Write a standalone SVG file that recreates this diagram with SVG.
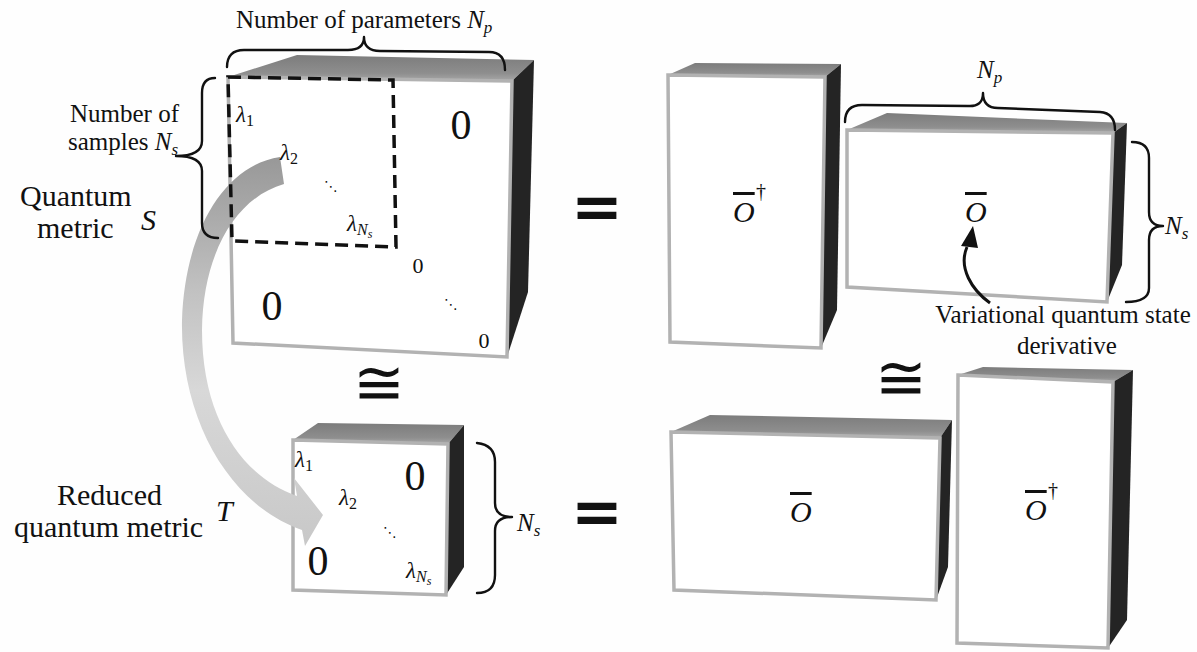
<svg xmlns="http://www.w3.org/2000/svg" width="1197" height="652" viewBox="0 0 1197 652">
<style>
.bg{fill:#fefefe}
.top{fill:url(#topGrad)}
.side{fill:#242424}
.front{fill:#ffffff;stroke:#b2b2b2;stroke-width:3.5;stroke-linejoin:miter}
.lbl{font-family:'Liberation Serif','Times New Roman',serif;font-size:25px;fill:#111}
.big{font-size:30px}
.mi{font-family:'Liberation Serif','Times New Roman',serif;font-style:italic;fill:#111}
.mu{font-family:'Liberation Serif','Times New Roman',serif;font-style:normal;fill:#111}
.zero{font-family:'Liberation Serif','Times New Roman',serif;font-size:42px;fill:#111;text-anchor:middle}
.z0{font-family:'Liberation Serif','Times New Roman',serif;font-size:22px;fill:#111;text-anchor:middle}
.lam{font-family:'Liberation Serif','Times New Roman',serif;font-style:italic;font-size:23px;fill:#111}
.ob{font-family:'Liberation Serif','Times New Roman',serif;font-style:italic;font-size:30px;fill:#111;text-decoration:overline}
.dag{font-family:'Liberation Serif','Times New Roman',serif;font-size:20px;fill:#111}
.brace{fill:none;stroke:#111;stroke-width:2.4;stroke-linecap:round;stroke-linejoin:round}
.dash{fill:none;stroke:#111;stroke-width:3.5;stroke-dasharray:13 7}
.op{font-family:'DejaVu Sans',sans-serif;font-weight:bold;fill:#111;text-anchor:middle}
.cong{font-family:'DejaVu Serif',serif;fill:#111;text-anchor:middle}
.dots{font-family:'DejaVu Sans',sans-serif;fill:#111;text-anchor:middle}
</style>
<defs>
<linearGradient id="topGrad" x1="0" y1="0" x2="0" y2="1">
<stop offset="0" stop-color="#7c7c7c"/>
<stop offset="0.7" stop-color="#8e8e8e"/>
<stop offset="1" stop-color="#a8a8a8"/>
</linearGradient>
<linearGradient id="arrowGrad" gradientUnits="userSpaceOnUse" x1="0" y1="157" x2="0" y2="546">
<stop offset="0" stop-color="#989898"/>
<stop offset="0.35" stop-color="#c2c2c2"/>
<stop offset="0.6" stop-color="#d8d8d8"/>
<stop offset="1" stop-color="#c8c8c8"/>
</linearGradient>
</defs>
<rect class="bg" x="0" y="0" width="1197" height="652"/>

<g id="matrix-S">
<polygon class="top" points="228,77 297,55 534,60 512,81"/>
<polygon class="side" points="512,81 534,60 528,292 507,357"/>
<polygon class="front" points="228,77 512,81 507,357 233,343"/>
</g>

<g id="matrix-T">
<polygon class="top" points="293,440 318,423 464,425 448,444"/>
<polygon class="side" points="448,444 464,425 464,567 446,595"/>
<polygon class="front" points="293,440 448,444 446,595 293,590"/>
</g>

<g id="box-Odag-top">
<polygon class="top" points="668,75 695,63 841,64 825,77"/>
<polygon class="side" points="825,77 841,64 837,310 821,348"/>
<polygon class="front" points="668,75 825,77 821,348 670,342"/>
<text class="ob" x="733" y="222">O</text>
<text class="dag" x="756" y="198">†</text>
</g>

<g id="box-O-top">
<polygon class="top" points="847,130 887,113 1127,123 1113,133"/>
<polygon class="side" points="1113,133 1127,123 1122,265 1107,302"/>
<polygon class="front" points="847,130 1113,133 1107,302 847,287"/>
<text class="ob" x="965" y="222">O</text>
</g>

<g id="box-O-bottom">
<polygon class="top" points="671,432 710,415 952,420 940,438"/>
<polygon class="side" points="940,438 952,420 948,567 936,600"/>
<polygon class="front" points="671,432 940,438 936,600 674,590"/>
<text class="ob" x="790" y="522">O</text>
</g>

<g id="box-Odag-bottom">
<polygon class="top" points="958,375 983,367 1133,370 1113,382"/>
<polygon class="side" points="1113,382 1133,370 1127,620 1108,648"/>
<polygon class="front" points="958,375 1113,382 1108,648 957,643"/>
<text class="ob" x="1025" y="520">O</text>
<text class="dag" x="1048" y="497">†</text>
</g>

<g id="connectors">
<path fill="url(#arrowGrad)" d="M 280,157 C 225,165 185,230 182,320 C 180,420 230,505 302,530 L 305,546 L 323,515 L 294,478 L 297,496 C 244,478 202,420 202,330 C 203,250 238,197 284,184 Z"/>
<path fill="none" stroke="#111" stroke-width="3" d="M 990,303 C 972,290 958,268 967,247"/>
<polygon fill="#111" points="973,226 961,246 978,248"/>
</g>

<g id="S-contents">
<path class="dash" d="M 228,77 L 393,80 L 396,247 L 232,241 Z"/>
<text class="lam" x="236" y="122">λ<tspan class="mu" font-size="16" dy="4">1</tspan></text>
<text class="lam" x="280" y="160">λ<tspan class="mu" font-size="16" dy="4">2</tspan></text>
<text class="dots" x="331" y="191" font-size="14">⋱</text>
<text class="lam" x="347" y="231">λ<tspan font-size="16" dy="4">N</tspan><tspan font-size="12" dy="3">s</tspan></text>
<text class="zero" x="461" y="139">0</text>
<text class="z0" x="418" y="273">0</text>
<text class="dots" x="451" y="309" font-size="14">⋱</text>
<text class="z0" x="484" y="348">0</text>
<text class="zero" x="272" y="320">0</text>
</g>

<g id="T-contents">
<text class="lam" x="295" y="467">λ<tspan class="mu" font-size="16" dy="4">1</tspan></text>
<text class="lam" x="339" y="505">λ<tspan class="mu" font-size="16" dy="4">2</tspan></text>
<text class="dots" x="390" y="537" font-size="14">⋱</text>
<text class="lam" x="406" y="578">λ<tspan font-size="16" dy="4">N</tspan><tspan font-size="12" dy="3">s</tspan></text>
<text class="zero" x="415" y="490">0</text>
<text class="zero" x="318" y="575">0</text>
</g>

<g id="labels">
<text class="lbl" x="236" y="28">Number of parameters <tspan class="mi">N</tspan><tspan class="mi" font-size="17" dy="5">p</tspan></text>
<path class="brace" d="M 227,67 Q 227,50 244,50 L 348,50 Q 364,50 364,37 Q 364,51 380,51 L 489,52 Q 505,52 505,70"/>
<text class="lbl" x="70" y="122">Number of</text>
<text class="lbl" x="68" y="150">samples <tspan class="mi">N</tspan><tspan class="mi" font-size="17" dy="5">s</tspan></text>
<path class="brace" d="M 215,78 Q 202,78 202,93 L 202,141 Q 202,156 176,156 Q 202,156 202,171 L 202,223 Q 202,238 218,238"/>
<text class="lbl big" x="20" y="206">Quantum</text>
<text class="lbl big" x="37" y="238">metric</text>
<text class="mi" font-size="30" x="141" y="230">S</text>

<text class="lbl big" x="57" y="505">Reduced</text>
<text class="lbl big" x="14" y="537">quantum metric</text>
<text class="mi" font-size="30" x="216" y="521">T</text>
<path class="brace" d="M 477,443 Q 495,445 495,462 L 495,503 Q 495,517 512,517 Q 495,517 495,531 L 495,575 Q 495,593 477,593"/>
<text class="mi" font-size="25" x="517" y="531">N<tspan font-size="17" dy="5">s</tspan></text>

<text class="mi" font-size="25" x="977" y="78">N<tspan font-size="17" dy="5">p</tspan></text>
<path class="brace" d="M 845,122 Q 845,105 862,105 L 968,106 Q 983,107 983,93 Q 983,108 998,108 L 1100,112 Q 1115,113 1115,130"/>
<path class="brace" d="M 1132,142 Q 1149,142 1149,158 L 1149,212 Q 1149,226 1163,226 Q 1149,226 1149,240 L 1149,288 Q 1149,302 1126,302"/>
<text class="mi" font-size="25" x="1165" y="234">N<tspan font-size="17" dy="5">s</tspan></text>

<text class="lbl" x="1063" y="323" text-anchor="middle">Variational quantum state</text>
<text class="lbl" x="1067" y="354" text-anchor="middle">derivative</text>

<text class="op" x="597" y="228" font-size="62">=</text>
<text class="op" x="597" y="533" font-size="62">=</text>
<text class="cong" x="379" y="404" font-size="62">≅</text>
<text class="cong" x="901" y="399" font-size="62">≅</text>
</g>
</svg>
